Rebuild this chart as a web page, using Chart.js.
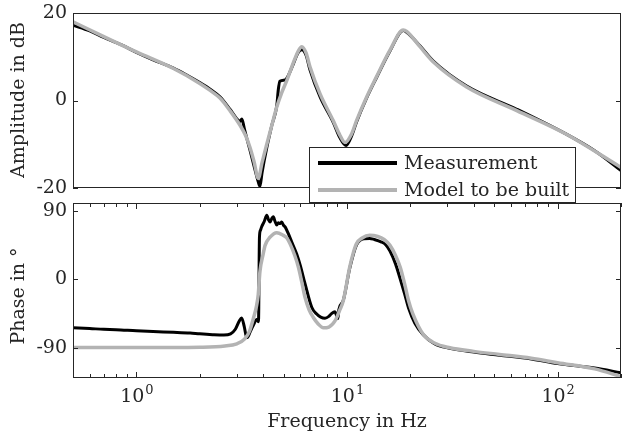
<!DOCTYPE html>
<html>
<head>
<meta charset="utf-8">
<script src="https://cdn.jsdelivr.net/npm/chart.js@4.4.1/dist/chart.umd.min.js"></script>
<style>
html, body { margin: 0; padding: 0; background: #fff; }
#wrap { position: relative; width: 622px; height: 439px; }
#wrap canvas { position: absolute; left: 0; top: 0; }
</style>
</head>
<body>
<div id="wrap">
  <canvas id="phaseChart" width="622" height="439"></canvas>
  <canvas id="ampChart" width="622" height="439"></canvas>
</div>
<script>
// ========== DATA ==========
// amplitude (dB) of the model
const ampModelFreq = [0.5, 0.7, 1.0, 1.5, 2.0, 2.24, 2.5, 2.78, 3.1, 3.3, 3.46, 3.62, 3.79, 3.95, 4.16, 4.4, 4.64, 4.9, 5.18, 5.5, 5.87, 6.1, 6.4, 6.67, 7.45, 8.6, 9.27, 9.78, 10.5, 11.1, 12.4, 13.8, 16.0, 18.5, 19.2, 22.2, 25.7, 37, 64, 110, 200];
const ampModel = [18.0, 14.6, 11.1, 7.3, 3.9, 2.3, 0.5, -2.3, -5.6, -8.0, -10.7, -14.0, -17.8, -14.2, -10.0, -5.6, -1.5, 1.8, 4.6, 8.0, 11.3, 12.3, 10.8, 7.7, 1.5, -4.6, -8.0, -9.6, -7.7, -4.6, 0.8, 5.4, 11.5, 16.1, 15.8, 12.3, 8.8, 3.1, -2.3, -7.7, -15.3];

// amplitude (dB) of the measurement
const ampMeasFreq = [0.5, 0.6, 0.7, 0.85, 1.0, 1.2, 1.5, 1.75, 2.0, 2.24, 2.5, 2.78, 3.0, 3.1, 3.17, 3.25, 3.35, 3.46, 3.62, 3.79, 3.86, 3.95, 4.16, 4.4, 4.64, 4.72, 4.8, 5.08, 5.25, 5.5, 5.87, 6.1, 6.4, 6.67, 7.45, 8.6, 9.27, 9.9, 10.5, 11.1, 12.4, 13.8, 16.0, 18.5, 19.2, 22.2, 25.7, 37, 64, 110, 150, 200];
const ampMeas = [17.2, 15.9, 14.4, 12.7, 11.0, 9.3, 7.4, 5.7, 4.1, 2.6, 0.8, -2.0, -4.2, -4.8, -4.2, -6.3, -8.8, -11.3, -15.0, -18.6, -19.6, -16.5, -10.8, -5.6, -1.2, 2.5, 4.4, 4.7, 5.6, 7.8, 11.0, 11.6, 10.3, 7.0, 0.8, -5.0, -8.6, -10.3, -8.2, -4.9, 0.6, 5.2, 11.3, 16.0, 15.6, 12.5, 9.0, 3.3, -2.0, -7.7, -11.5, -16.0];

// phase (deg) of the model
const phaseModelFreq = [0.5, 1.0, 2.0, 2.63, 3.0, 3.26, 3.45, 3.59, 3.72, 3.79, 3.86, 4.0, 4.08, 4.31, 4.64, 4.95, 5.18, 5.36, 5.65, 5.88, 6.1, 6.32, 6.6, 6.92, 7.3, 7.72, 8.2, 8.77, 9.2, 9.6, 10.3, 10.7, 11.1, 11.8, 12.8, 14.0, 15.0, 16.0, 17.0, 17.9, 18.8, 19.6, 20.5, 23, 26, 30.8, 40, 53, 75, 100, 150, 200];
const phaseModel = [-90, -90, -89.5, -88, -85, -79, -68, -52, -35, -20, 10, 33, 44, 55, 61, 58, 54, 46.6, 31, 15.6, -4, -24, -40, -50.5, -59, -64, -63, -55, -42, -28.5, 15.6, 34, 46.6, 54, 57.6, 56, 52, 44.3, 31, 15.6, -7, -28.5, -45, -72.5, -84, -90.3, -95, -99, -104, -110, -118, -128];

// phase (deg) of the measurement
const phaseMeasFreq = [0.5, 0.6, 0.7, 0.8, 1.0, 1.2, 1.5, 1.8, 2.0, 2.3, 2.6, 2.8, 2.95, 3.08, 3.16, 3.25, 3.34, 3.4, 3.46, 3.6, 3.73, 3.8, 3.84, 3.88, 3.93, 4.05, 4.16, 4.24, 4.31, 4.4, 4.47, 4.55, 4.64, 4.72, 4.81, 4.9, 4.99, 5.1, 5.26, 5.5, 5.77, 6.0, 6.32, 6.8, 7.18, 7.5, 7.86, 8.2, 8.4, 8.77, 8.9, 9.05, 9.15, 9.6, 10.3, 11.1, 12.0, 12.8, 13.5, 14.5, 15.3, 16.0, 17.0, 17.9, 18.8, 19.6, 21, 23, 26, 30.8, 40, 53, 75, 100, 150, 200];
const phaseMeas = [-64, -65, -66, -66.5, -68, -69, -70, -71, -72, -73, -73.5, -72, -66, -55, -51, -62, -77, -75, -70, -60, -53, -56, 55, 64, 68.5, 76, 84, 78, 75, 80, 82, 76, 71, 74, 73, 75, 71, 68, 60, 47, 33, 18, -6, -37, -46, -50, -51.4, -49, -46, -43, -47, -52, -40, -28, 14, 45, 53, 53.5, 52, 49, 45, 37, 20, 0, -20, -38, -58, -73, -85, -91, -96, -100, -105, -111, -117, -123];

// axes
const freqMin = 0.5, freqMax = 200;
const freqLabels = [1, 10, 100];
const freqLabelExp = ['0', '1', '2'];
const freqTicks = [0.5, 0.6, 0.7, 0.8, 0.9, 1, 2, 3, 4, 5, 6, 7, 8, 9, 10, 20, 30, 40, 50, 60, 70, 80, 90, 100, 200];
const ampTicks = [-20, 0, 20];
const phaseTicks = [-90, 0, 90];
const legendLabels = ['Measurement', 'Model to be built'];

// ========== STYLE ==========
const FONT = '"DejaVu Serif", serif';
const AXIS_COLOR = '#262626';
const TEXT_COLOR = '#262626';
const MEAS_COLOR = '#000000';
const MODEL_COLOR = '#b3b3b3';

function pts(xs, ys) {
    return xs.map((x, i) => ({ x, y: ys[i] }));
}

// ========== FRAME PLUGIN ==========
// draws box, inward ticks, tick labels and axis titles from the chart scales
const bodeFrame = {
    id: 'bodeFrame',
    afterDatasetsDraw(chart, args, opts) {
        const ctx = chart.ctx;
        const a = chart.chartArea;
        const xs = chart.scales.x, ys = chart.scales.y;
        ctx.save();
        ctx.strokeStyle = AXIS_COLOR;
        ctx.lineWidth = 1;
        ctx.strokeRect(a.left + 0.5, a.top + 0.5, a.right - a.left - 1, a.bottom - a.top - 1);

        // y ticks
        ctx.beginPath();
        opts.yTicks.forEach(v => {
            const py = Math.round(ys.getPixelForValue(v)) + 0.5;
            ctx.moveTo(a.left, py); ctx.lineTo(a.left + 5, py);
            ctx.moveTo(a.right, py); ctx.lineTo(a.right - 5, py);
        });
        ctx.stroke();

        ctx.fillStyle = TEXT_COLOR;
        ctx.font = '19px ' + FONT;
        ctx.textAlign = 'right';
        ctx.textBaseline = 'middle';
        opts.yTicks.forEach(v => {
            const py = ys.getPixelForValue(v);
            ctx.fillText(String(v), a.left - 6, py);
        });

        // y title
        ctx.save();
        ctx.translate(24, opts.titleY);
        ctx.rotate(-Math.PI / 2);
        ctx.textAlign = 'center';
        ctx.textBaseline = 'alphabetic';
        ctx.fillText(opts.yTitle, 0, 0);
        ctx.restore();

        // x ticks and labels
        if (opts.xTicks) {
            ctx.beginPath();
            freqTicks.forEach(v => {
                const px = Math.round(xs.getPixelForValue(v)) + 0.5;
                const len = freqLabels.includes(v) ? 6 : 4;
                ctx.moveTo(px, a.bottom); ctx.lineTo(px, a.bottom - len);
                ctx.moveTo(px, a.top); ctx.lineTo(px, a.top + len);
            });
            ctx.stroke();

            ctx.textAlign = 'left';
            ctx.textBaseline = 'alphabetic';
            freqLabels.forEach((v, i) => {
                const px = xs.getPixelForValue(v);
                ctx.font = '19px ' + FONT;
                const wBase = ctx.measureText('10').width;
                ctx.font = '13px ' + FONT;
                const wExp = ctx.measureText(freqLabelExp[i]).width;
                const x0 = px - (wBase + wExp) / 2;
                ctx.font = '19px ' + FONT;
                ctx.fillText('10', x0, 402);
                ctx.font = '13px ' + FONT;
                ctx.fillText(freqLabelExp[i], x0 + wBase + 1, 394);
            });

            ctx.font = '19px ' + FONT;
            ctx.textAlign = 'center';
            ctx.fillText(opts.xTitle, (a.left + a.right) / 2, 427);
        }
        ctx.restore();
    }
};

// legend box drawn across both panels (on the upper canvas)
const bodeLegend = {
    id: 'bodeLegend',
    afterDraw(chart) {
        const ctx = chart.ctx;
        const box = { left: 309.5, top: 147.5, right: 575.5, bottom: 202.5 };
        ctx.save();
        ctx.fillStyle = '#fff';
        ctx.fillRect(box.left, box.top, box.right - box.left, box.bottom - box.top);
        ctx.strokeStyle = AXIS_COLOR;
        ctx.lineWidth = 1;
        ctx.strokeRect(box.left, box.top, box.right - box.left, box.bottom - box.top);

        const rows = [
            { y: 163, color: MEAS_COLOR, label: legendLabels[0] },
            { y: 190, color: MODEL_COLOR, label: legendLabels[1] }
        ];
        ctx.font = '19px ' + FONT;
        ctx.textAlign = 'left';
        ctx.textBaseline = 'alphabetic';
        rows.forEach(r => {
            ctx.strokeStyle = r.color;
            ctx.lineWidth = 4;
            ctx.beginPath();
            ctx.moveTo(318, r.y);
            ctx.lineTo(397, r.y);
            ctx.stroke();
            ctx.fillStyle = TEXT_COLOR;
            ctx.fillText(r.label, 404, r.y + 6);
        });
        ctx.restore();
    }
};

function makeChart(id, measData, modelData, yMin, yMax, padding, frameOpts, extraPlugins) {
    return new Chart(document.getElementById(id), {
        type: 'line',
        data: {
            datasets: [
                {
                    label: legendLabels[1],
                    data: modelData,
                    borderColor: MODEL_COLOR,
                    borderWidth: 3.5,
                    pointRadius: 0,
                    cubicInterpolationMode: 'monotone',
                    borderJoinStyle: 'round',
                    order: 0
                },
                {
                    label: legendLabels[0],
                    data: measData,
                    borderColor: MEAS_COLOR,
                    borderWidth: 3,
                    pointRadius: 0,
                    cubicInterpolationMode: 'monotone',
                    borderJoinStyle: 'round',
                    order: 1
                }
            ]
        },
        options: {
            responsive: false,
            animation: false,
            events: [],
            layout: { padding },
            scales: {
                x: { type: 'logarithmic', min: freqMin, max: freqMax, display: false },
                y: { type: 'linear', min: yMin, max: yMax, display: false }
            },
            plugins: {
                legend: { display: false },
                tooltip: { enabled: false },
                bodeFrame: frameOpts
            }
        },
        plugins: [bodeFrame].concat(extraPlugins)
    });
}

// ========== INIT ==========
makeChart('phaseChart', pts(phaseMeasFreq, phaseMeas), pts(phaseModelFreq, phaseModel), -130, 100,
    { left: 73, right: 1, top: 203, bottom: 61 },
    { yTicks: phaseTicks, yTitle: 'Phase in °', titleY: 296, xTicks: true, xTitle: 'Frequency in Hz' },
    []);

makeChart('ampChart', pts(ampMeasFreq, ampMeas), pts(ampModelFreq, ampModel), -20, 20,
    { left: 73, right: 1, top: 13, bottom: 251 },
    { yTicks: ampTicks, yTitle: 'Amplitude in dB', titleY: 100, xTicks: false },
    [bodeLegend]);
</script>
</body>
</html>
